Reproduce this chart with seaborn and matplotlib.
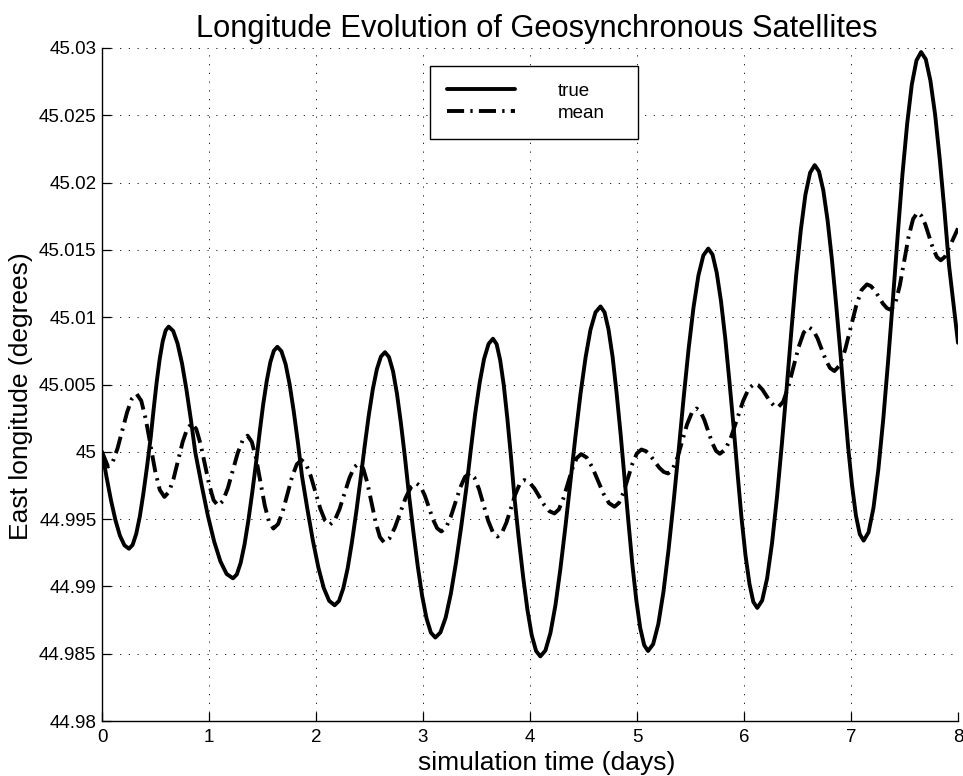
import matplotlib
matplotlib.use("Agg")
import matplotlib.pyplot as plt
import numpy as np
import pandas as pd
import seaborn as sns

# ---------------- data ----------------
true_t = [0.000, 0.042, 0.084, 0.126, 0.168, 0.210, 0.252,
          0.286, 0.320, 0.354, 0.387, 0.421, 0.455, 0.483, 0.511, 0.539, 0.567, 0.595, 0.623,
          0.665, 0.706, 0.748, 0.789, 0.831, 0.872, 0.931, 0.989, 1.048, 1.107, 1.165, 1.224,
          1.260, 1.296, 1.332, 1.368, 1.404, 1.440, 1.473, 1.506, 1.540, 1.573, 1.606, 1.639,
          1.677, 1.716, 1.754, 1.792, 1.831, 1.869, 1.920, 1.971, 2.022, 2.072, 2.123, 2.174,
          2.215, 2.255, 2.296, 2.336, 2.377, 2.417, 2.455, 2.493, 2.531, 2.569, 2.607, 2.645,
          2.682, 2.720, 2.757, 2.794, 2.832, 2.869, 2.910, 2.951, 2.992, 3.033, 3.074, 3.115,
          3.163, 3.212, 3.260, 3.308, 3.357, 3.405, 3.447, 3.488, 3.530, 3.571, 3.613, 3.654,
          3.688, 3.721, 3.755, 3.788, 3.822, 3.855, 3.895, 3.936, 3.976, 4.016, 4.057, 4.097,
          4.144, 4.191, 4.238, 4.284, 4.331, 4.378, 4.425, 4.472, 4.519, 4.565, 4.612, 4.659,
          4.697, 4.734, 4.772, 4.809, 4.847, 4.884, 4.921, 4.957, 4.994, 5.030, 5.067, 5.103,
          5.151, 5.199, 5.247, 5.294, 5.342, 5.390, 5.436, 5.482, 5.528, 5.574, 5.620, 5.666,
          5.706, 5.745, 5.785, 5.825, 5.864, 5.904, 5.941, 5.977, 6.014, 6.051, 6.087, 6.124,
          6.170, 6.216, 6.262, 6.308, 6.354, 6.400, 6.444, 6.487, 6.531, 6.574, 6.618, 6.661,
          6.701, 6.741, 6.781, 6.821, 6.861, 6.901, 6.937, 6.973, 7.010, 7.046, 7.082, 7.118,
          7.164, 7.210, 7.256, 7.302, 7.348, 7.394, 7.438, 7.481, 7.525, 7.568, 7.612, 7.655,
          7.699, 7.742, 7.786, 7.829, 7.873, 7.916, 7.958, 8.000]

true_v = [45.00000, 44.99814, 44.99640, 44.99491, 44.99376, 44.99305, 44.99280,
          44.99308, 44.99391, 44.99522, 44.99692, 44.99891, 45.00105, 45.00319, 45.00518, 45.00688, 45.00819, 45.00902, 45.00930,
          45.00898, 45.00805, 45.00656, 45.00463, 45.00237, 44.99995, 44.99753, 44.99527, 44.99334, 44.99185, 44.99092, 44.99060,
          44.99089, 44.99175, 44.99312, 44.99490, 44.99697, 44.99920, 45.00143, 45.00350, 45.00528, 45.00665, 45.00751, 45.00780,
          45.00747, 45.00651, 45.00499, 45.00300, 45.00068, 44.99820, 44.99572, 44.99340, 44.99141, 44.98989, 44.98893, 44.98860,
          44.98892, 44.98986, 44.99135, 44.99330, 44.99557, 44.99800, 45.00043, 45.00270, 45.00465, 45.00614, 45.00708, 45.00740,
          45.00704, 45.00598, 45.00430, 45.00210, 44.99954, 44.99680, 44.99406, 44.99150, 44.98930, 44.98762, 44.98656, 44.98620,
          44.98658, 44.98769, 44.98945, 44.99175, 44.99443, 44.99730, 45.00017, 45.00285, 45.00515, 45.00691, 45.00802, 45.00840,
          45.00800, 45.00682, 45.00494, 45.00250, 44.99965, 44.99660, 44.99355, 44.99070, 44.98826, 44.98638, 44.98520, 44.98480,
          44.98524, 44.98654, 44.98861, 44.99130, 44.99444, 44.99780, 45.00116, 45.00430, 45.00699, 45.00906, 45.01036, 45.01080,
          45.01036, 45.00908, 45.00705, 45.00440, 45.00131, 44.99800, 44.99469, 44.99160, 44.98895, 44.98692, 44.98564, 44.98520,
          44.98571, 44.98720, 44.98958, 44.99267, 44.99628, 45.00015, 45.00402, 45.00763, 45.01072, 45.01310, 45.01459, 45.01510,
          45.01465, 45.01331, 45.01119, 45.00843, 45.00521, 45.00175, 44.99829, 44.99507, 44.99231, 44.99019, 44.98885, 44.98840,
          44.98896, 44.99060, 44.99322, 44.99662, 45.00059, 45.00485, 45.00911, 45.01308, 45.01648, 45.01910, 45.02074, 45.02130,
          45.02082, 45.01943, 45.01721, 45.01433, 45.01096, 45.00735, 45.00374, 45.00038, 44.99749, 44.99527, 44.99388, 44.99340,
          44.99402, 44.99583, 44.99872, 45.00247, 45.00685, 45.01155, 45.01625, 45.02063, 45.02438, 45.02727, 45.02908, 45.02970,
          45.02916, 45.02758, 45.02506, 45.02178, 45.01795, 45.01385, 45.01096, 45.00810]

mean_t = [0.000, 0.056,
          0.101, 0.145, 0.190, 0.235, 0.279, 0.324,
          0.367, 0.410, 0.454, 0.497, 0.540, 0.583,
          0.626, 0.669, 0.712, 0.754, 0.797, 0.840,
          0.881, 0.921, 0.962, 1.003, 1.043, 1.084,
          1.130, 1.176, 1.222, 1.268, 1.314, 1.360,
          1.400, 1.441, 1.481, 1.521, 1.562, 1.602,
          1.646, 1.689, 1.733, 1.776, 1.820, 1.863,
          1.907, 1.951, 1.996, 2.040, 2.084, 2.128,
          2.174, 2.219, 2.265, 2.311, 2.356, 2.402,
          2.441, 2.480, 2.519, 2.558, 2.597, 2.636,
          2.686, 2.737, 2.787, 2.837, 2.888, 2.938,
          2.977, 3.016, 3.055, 3.093, 3.132, 3.171,
          3.215, 3.259, 3.304, 3.348, 3.392, 3.436,
          3.479, 3.523, 3.566, 3.609, 3.653, 3.696,
          3.738, 3.780, 3.822, 3.863, 3.905, 3.947,
          3.994, 4.041, 4.088, 4.134, 4.181, 4.228,
          4.270, 4.311, 4.353, 4.395, 4.436, 4.478,
          4.530, 4.582, 4.634, 4.686, 4.738, 4.790,
          4.832, 4.874, 4.916, 4.957, 4.999, 5.041,
          5.083, 5.124, 5.166, 5.207, 5.249, 5.290,
          5.334, 5.379, 5.423, 5.467, 5.512, 5.556,
          5.592, 5.629, 5.665, 5.701, 5.738, 5.774,
          5.828, 5.882, 5.937, 5.991, 6.045, 6.099,
          6.135, 6.172, 6.208, 6.244, 6.281, 6.317,
          6.365, 6.413, 6.462, 6.510, 6.558, 6.606,
          6.646, 6.686, 6.726, 6.765, 6.805, 6.845,
          6.896, 6.946, 6.997, 7.048, 7.098, 7.149,
          7.186, 7.224, 7.261, 7.298, 7.336, 7.373,
          7.414, 7.456, 7.497, 7.538, 7.580, 7.621,
          7.657, 7.694, 7.730, 7.766, 7.803, 7.839,
          7.879, 7.919, 7.959, 8.000]

mean_v = [45.00000, 44.99890,
          44.99926, 45.00025, 45.00160, 45.00295, 45.00394, 45.00430,
          45.00379, 45.00239, 45.00048, 44.99857, 44.99717, 44.99665,
          44.99702, 44.99801, 44.99938, 45.00074, 45.00173, 45.00210,
          45.00169, 45.00058, 44.99905, 44.99752, 44.99641, 44.99600,
          44.99635, 44.99730, 44.99860, 44.99990, 45.00085, 45.00120,
          45.00074, 44.99948, 44.99775, 44.99602, 44.99476, 44.99430,
          44.99464, 44.99557, 44.99685, 44.99813, 44.99906, 44.99940,
          44.99908, 44.99820, 44.99699, 44.99578, 44.99490, 44.99458,
          44.99489, 44.99572, 44.99687, 44.99802, 44.99885, 44.99916,
          44.99877, 44.99769, 44.99622, 44.99475, 44.99367, 44.99327,
          44.99356, 44.99437, 44.99547, 44.99657, 44.99738, 44.99767,
          44.99743, 44.99677, 44.99588, 44.99498, 44.99432, 44.99408,
          44.99437, 44.99516, 44.99625, 44.99734, 44.99813, 44.99842,
          44.99810, 44.99724, 44.99606, 44.99488, 44.99402, 44.99370,
          44.99398, 44.99475, 44.99580, 44.99685, 44.99762, 44.99790,
          44.99773, 44.99728, 44.99666, 44.99604, 44.99559, 44.99542,
          44.99572, 44.99652, 44.99763, 44.99873, 44.99953, 44.99983,
          44.99957, 44.99885, 44.99788, 44.99690, 44.99619, 44.99592,
          44.99621, 44.99698, 44.99805, 44.99911, 44.99988, 45.00017,
          45.00005, 44.99973, 44.99928, 44.99883, 44.99851, 44.99839,
          44.99871, 44.99960, 45.00081, 45.00202, 45.00290, 45.00322,
          45.00300, 45.00238, 45.00154, 45.00070, 45.00008, 44.99985,
          45.00020, 45.00116, 45.00246, 45.00376, 45.00471, 45.00506,
          45.00494, 45.00462, 45.00418, 45.00374, 45.00342, 45.00330,
          45.00370, 45.00479, 45.00628, 45.00777, 45.00886, 45.00926,
          45.00904, 45.00845, 45.00763, 45.00681, 45.00622, 45.00600,
          45.00643, 45.00761, 45.00922, 45.01083, 45.01201, 45.01244,
          45.01231, 45.01197, 45.01149, 45.01101, 45.01067, 45.01054,
          45.01103, 45.01235, 45.01416, 45.01597, 45.01729, 45.01778,
          45.01754, 45.01690, 45.01601, 45.01512, 45.01447, 45.01423,
          45.01450, 45.01520, 45.01590, 45.01660]

series_labels = ["true", "mean"]
x_ticks = [0, 1, 2, 3, 4, 5, 6, 7, 8]
x_tick_labels = ["0", "1", "2", "3", "4", "5", "6", "7", "8"]
y_ticks = [44.98, 44.985, 44.99, 44.995, 45.0, 45.005, 45.01, 45.015, 45.02, 45.025, 45.03]
y_tick_labels = ["44.98", "44.985", "44.99", "44.995", "45", "45.005",
                 "45.01", "45.015", "45.02", "45.025", "45.03"]

title_text = "Longitude Evolution of Geosynchronous Satellites"
x_label = "simulation time (days)"
y_label = "East longitude (degrees)"

# ---------------- styling ----------------
sns.set_theme(style="white")
plt.rcParams['font.family'] = ['Liberation Sans', 'DejaVu Sans']
plt.rcParams['text.color'] = 'black'
plt.rcParams['axes.labelcolor'] = 'black'
plt.rcParams['xtick.color'] = 'black'
plt.rcParams['ytick.color'] = 'black'

fig = plt.figure(figsize=(9.63, 7.76), dpi=100)
fig.patch.set_facecolor('white')
ax = fig.add_axes([102 / 963, 1 - 721 / 776, 856 / 963, 673 / 776])

df_true = pd.DataFrame({"t": true_t, "v": true_v})
df_mean = pd.DataFrame({"t": mean_t, "v": mean_v})

sns.lineplot(data=df_true, x="t", y="v", ax=ax, color="black", linewidth=2.8,
             estimator=None, sort=False, label=series_labels[0])
sns.lineplot(data=df_mean, x="t", y="v", ax=ax, color="black", linewidth=2.8,
             linestyle=(0, (4.4, 1.6, 0.6, 1.6)),
             estimator=None, sort=False, label=series_labels[1])

ax.set_xlim(0, 8)
ax.set_ylim(44.98, 45.03)
ax.set_xticks(x_ticks)
ax.set_xticklabels(x_tick_labels)
ax.set_yticks(y_ticks)
ax.set_yticklabels(y_tick_labels)

ax.grid(True, color='black', linestyle=(0, (1.5, 9)), linewidth=0.6)
ax.set_axisbelow(True)

for side in ['top', 'right']:
    ax.spines[side].set_visible(False)
for side in ['left', 'bottom']:
    ax.spines[side].set_color('black')
    ax.spines[side].set_linewidth(1.0)

ax.tick_params(axis='both', which='major', direction='in', length=6.5, width=0.9,
               colors='black', labelsize=13.5, left=True, bottom=True, top=False, right=False)
ax.tick_params(axis='x', pad=6)
ax.tick_params(axis='y', pad=4)

ax.set_title(title_text, fontsize=22.2, pad=8, color='black', x=0.508)
ax.set_xlabel(x_label, fontsize=19)
ax.set_ylabel(y_label, fontsize=19)
ax.xaxis.set_label_coords(0.52, (721 - 775) / 673)
ax.xaxis.label.set_verticalalignment('bottom')
ax.yaxis.set_label_coords(-0.0806, 0.483)

# legend box: left 430px, top 66px, width 208px (as in the reference)
leg = ax.legend(loc='upper left', bbox_to_anchor=(0.3832, 0.8733, 0.243, 0.1),
                mode='expand', borderaxespad=0,
                fontsize=13.5, frameon=True, fancybox=False, framealpha=1,
                edgecolor='black', handlelength=3.65, handletextpad=2.25,
                borderpad=0.9, labelspacing=0.25)
leg.get_frame().set_linewidth(1.0)

fig.savefig("out.png", dpi=100, facecolor='white')
